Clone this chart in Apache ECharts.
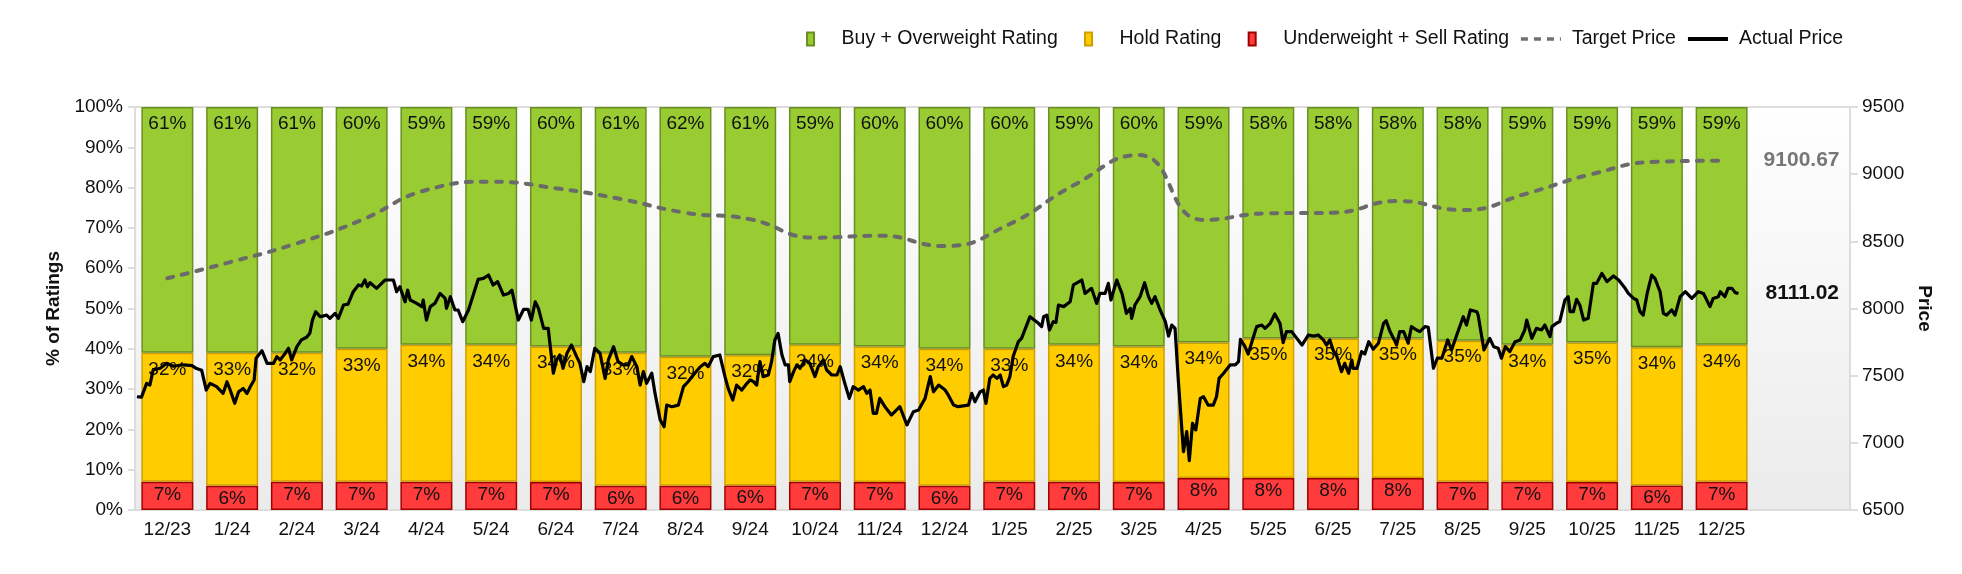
<!DOCTYPE html>
<html><head><meta charset="utf-8">
<script src="https://cdn.jsdelivr.net/npm/echarts@6/dist/echarts.min.js"></script>
<style>html,body{margin:0;padding:0;background:#fff}#c{width:1962px;height:574px}</style>
</head><body><div id="c"></div>
<script>
const months = ['12/23','1/24','2/24','3/24','4/24','5/24','6/24','7/24','8/24','9/24','10/24','11/24','12/24','1/25','2/25','3/25','4/25','5/25','6/25','7/25','8/25','9/25','10/25','11/25','12/25'];
const buyPct  = [61,61,61,60,59,59,60,61,62,61,59,60,60,60,59,60,59,58,58,58,58,59,59,59,59];
const holdPct = [32,33,32,33,34,34,34,33,32,32,34,34,34,33,34,34,34,35,35,35,35,34,35,34,34];
const sellPct = [7,6,7,7,7,7,7,6,6,6,7,7,6,7,7,7,8,8,8,8,7,7,7,6,7];
const targetPrice = [8225,8349,8485,8659,8882,8944,8895,8815,8713,8664,8527,8542,8465,8627,8919,9142,8659,8709,8713,8800,8733,8857,9001,9093,9100.67];
// [months since start of 12/23, price]
const actualPrice = [
[0.03,7343],[0.10,7340],[0.18,7443],[0.23,7430],[0.28,7542],[0.39,7555],[0.49,7592],[0.59,7570],[0.75,7581],[0.88,7575],[0.95,7553],[1.03,7540],
[1.10,7393],[1.16,7443],[1.26,7418],[1.36,7368],[1.42,7455],[1.47,7393],[1.54,7294],[1.60,7380],[1.67,7405],[1.73,7368],[1.78,7418],[1.84,7468],[1.87,7629],[1.96,7686],
[2.04,7592],[2.14,7592],[2.19,7642],[2.24,7617],[2.32,7667],[2.37,7704],[2.42,7617],[2.50,7716],[2.57,7766],[2.65,7786],[2.70,7816],[2.74,7914],[2.79,7976],[2.86,7939],[2.96,7951],
[3.01,7927],[3.09,7964],[3.14,7927],[3.22,8026],[3.29,8033],[3.37,8125],[3.45,8175],[3.50,8167],[3.55,8212],[3.59,8162],[3.63,8192],[3.73,8150],[3.86,8212],[3.99,8212],
[4.04,8125],[4.09,8162],[4.17,8050],[4.21,8137],[4.25,8063],[4.35,8038],[4.43,8014],[4.45,8063],[4.50,7914],[4.56,8014],[4.63,8038],[4.71,8112],[4.79,8075],[4.81,8001],[4.87,8088],[4.94,7989],[4.99,7989],
[5.06,7902],[5.15,7989],[5.23,8112],[5.30,8217],[5.38,8224],[5.46,8249],[5.53,8175],[5.60,8200],[5.69,8100],[5.77,8112],[5.82,8137],[5.92,7914],[6.00,7993],
[6.07,7993],[6.12,7914],[6.18,8050],[6.23,8001],[6.31,7852],[6.38,7853],[6.46,7518],[6.51,7617],[6.56,7654],[6.61,7555],[6.67,7667],[6.74,7728],[6.82,7642],[6.87,7592],[6.93,7455],[6.98,7567],
[7.03,7530],[7.10,7704],[7.18,7667],[7.26,7480],[7.31,7617],[7.39,7716],[7.46,7604],[7.54,7580],[7.62,7580],[7.67,7642],[7.75,7567],[7.80,7430],[7.85,7530],[7.90,7443],[7.98,7518],
[8.03,7368],[8.11,7170],[8.17,7120],[8.21,7281],[8.29,7269],[8.39,7281],[8.47,7418],[8.54,7455],[8.62,7505],[8.73,7567],[8.80,7592],[8.85,7567],[8.93,7642],
[9.03,7654],[9.11,7493],[9.16,7405],[9.23,7319],[9.29,7430],[9.37,7393],[9.45,7443],[9.50,7468],[9.55,7455],[9.60,7430],[9.65,7604],[9.70,7493],[9.78,7505],[9.83,7604],[9.88,7766],[9.93,7815],[9.99,7654],
[10.04,7580],[10.09,7580],[10.11,7455],[10.17,7530],[10.22,7580],[10.27,7555],[10.35,7617],[10.42,7592],[10.50,7493],[10.55,7567],[10.63,7617],[10.68,7542],[10.76,7505],[10.84,7505],[10.89,7567],[10.96,7443],
[11.03,7331],[11.09,7418],[11.17,7393],[11.25,7418],[11.30,7368],[11.35,7393],[11.40,7220],[11.45,7220],[11.50,7331],[11.58,7269],[11.68,7207],[11.81,7269],[11.92,7133],
[12.02,7232],[12.10,7244],[12.20,7331],[12.28,7493],[12.33,7380],[12.41,7430],[12.51,7393],[12.56,7355],[12.64,7281],[12.71,7269],[12.87,7281],[12.92,7368],[12.97,7306],
[13.05,7380],[13.10,7393],[13.14,7294],[13.20,7480],[13.25,7505],[13.31,7480],[13.36,7505],[13.41,7418],[13.46,7430],[13.51,7493],[13.56,7642],[13.64,7753],[13.69,7778],[13.82,7939],[13.95,7890],
[14.00,7865],[14.03,7939],[14.08,7951],[14.12,7840],[14.18,7902],[14.22,7896],[14.26,8026],[14.34,8014],[14.44,8050],[14.49,8175],[14.62,8212],[14.67,8112],[14.77,8150],[14.85,8038],[14.90,8112],[14.98,8112],
[15.03,8187],[15.07,8063],[15.16,8212],[15.24,8112],[15.31,7964],[15.37,8001],[15.39,7927],[15.44,8026],[15.52,8088],[15.59,8192],[15.65,8088],[15.70,8038],[15.75,8088],[15.83,7989],[15.91,7902],[15.96,7795],
[16.01,7877],[16.06,7852],[16.11,7468],[16.19,6934],[16.24,7083],[16.28,6867],[16.33,7145],[16.38,7096],[16.45,7331],[16.50,7343],[16.57,7281],[16.65,7281],[16.70,7343],[16.74,7480],[16.81,7518],[16.91,7580],[16.99,7580],
[17.04,7604],[17.07,7771],[17.14,7716],[17.19,7661],[17.24,7741],[17.32,7865],[17.40,7877],[17.45,7852],[17.53,7890],[17.60,7959],[17.68,7890],[17.73,7746],[17.78,7828],[17.86,7828],
[18.02,7728],[18.12,7803],[18.20,7795],[18.27,7803],[18.35,7766],[18.40,7728],[18.45,7766],[18.50,7691],[18.56,7642],[18.63,7530],[18.68,7592],[18.74,7518],[18.79,7617],[18.81,7555],[18.87,7555],[18.94,7679],
[18.99,7661],[19.05,7753],[19.12,7697],[19.20,7741],[19.28,7890],[19.32,7909],[19.38,7828],[19.46,7753],[19.48,7728],[19.53,7828],[19.59,7828],[19.66,7741],[19.71,7865],[19.79,7840],[19.84,7828],[19.92,7865],[19.97,7860],
[20.05,7555],[20.11,7630],[20.18,7630],[20.27,7766],[20.33,7691],[20.41,7803],[20.51,7939],[20.56,7877],[20.62,7989],[20.72,7976],[20.74,7951],[20.83,7691],[20.92,7778],[20.98,7716],
[21.05,7704],[21.10,7630],[21.16,7716],[21.23,7679],[21.31,7753],[21.39,7766],[21.46,7840],[21.49,7914],[21.57,7778],[21.64,7852],[21.72,7840],[21.77,7877],[21.85,7791],[21.88,7865],[21.95,7890],
[22.00,7902],[22.08,8063],[22.13,8088],[22.16,7976],[22.21,7976],[22.26,8068],[22.31,8026],[22.37,7914],[22.44,7927],[22.52,8187],[22.57,8187],[22.65,8261],[22.73,8200],[22.83,8242],[22.91,8212],
[23.01,8150],[23.06,8112],[23.14,8075],[23.19,8063],[23.24,7976],[23.29,7951],[23.35,8112],[23.42,8249],[23.47,8224],[23.55,8125],[23.60,7964],[23.65,7951],[23.73,7989],[23.78,7951],[23.86,8088],[23.94,8125],
[24.04,8075],[24.14,8125],[24.22,8112],[24.32,8014],[24.37,8075],[24.45,8088],[24.48,8125],[24.55,8088],[24.60,8150],[24.66,8150],[24.71,8118],[24.76,8111.02]
];

const FONT = '"Liberation Sans", Arial, Helvetica, sans-serif';
const chart = echarts.init(document.getElementById('c'), null, {renderer: 'canvas'});
const totals = months.map((m, i) => buyPct[i] + holdPct[i] + sellPct[i]);
const stackData = arr => arr.map((v, i) => ({value: v * 100 / totals[i], raw: v}));
const pctLabel = (dist) => ({
  show: true, position: 'insideTop', distance: dist,
  formatter: p => p.data.raw + '%',
  fontSize: 19, color: '#111', fontFamily: FONT
});
const barIcon = 'path://M0,0h7v13h-7z';
const lastTarget = targetPrice[targetPrice.length - 1];
const lastActual = actualPrice[actualPrice.length - 1][1];
const spacedNames = ['Buy + Overweight Rating', 'Hold Rating'];

chart.setOption({
  animation: false,
  textStyle: {fontFamily: FONT},
  legend: {
    right: 119, top: 29, padding: 0, itemGap: 10, itemWidth: 40, itemHeight: 13,
    textStyle: {fontSize: 19.5, color: '#111', fontFamily: FONT, padding: [0, 0, 0, 6]},
    formatter: name => spacedNames.includes(name) ? name + '   ' : name,
    data: [
      {name: 'Buy + Overweight Rating', icon: barIcon},
      {name: 'Hold Rating', icon: barIcon},
      {name: 'Underweight + Sell Rating', icon: barIcon},
      {name: 'Target Price', itemStyle: {opacity: 0}, lineStyle: {width: 3.5, type: [7, 6], cap: 'butt', color: '#707070'}},
      {name: 'Actual Price', itemStyle: {opacity: 0}, lineStyle: {width: 4, color: '#000'}}
    ]
  },
  graphic: [{
    type: 'rect', z: -10, silent: true,
    shape: {x: 135, y: 107, width: 1715, height: 403},
    style: {
      fill: new echarts.graphic.LinearGradient(0, 0, 0, 1, [{offset: 0, color: '#ffffff'}, {offset: 1, color: '#ebebeb'}]),
      stroke: '#dddddd', lineWidth: 2
    }
  }],
  grid: {left: 135, right: 208, top: 107, bottom: 64, containLabel: false},
  xAxis: [
    {type: 'category', data: months, boundaryGap: true,
      axisLine: {show: false}, axisTick: {show: false},
      axisLabel: {fontSize: 19, color: '#111', margin: 10, fontFamily: FONT}},
    {type: 'value', min: 0, max: 25, show: false}
  ],
  yAxis: [
    {type: 'value', min: 0, max: 100, interval: 10, position: 'left',
      axisLine: {show: false}, splitLine: {show: false},
      axisTick: {show: true, length: 7, lineStyle: {color: '#dddddd', width: 2}},
      axisLabel: {formatter: '{value}%', fontSize: 19, color: '#111', margin: 12, fontFamily: FONT},
      name: '% of Ratings', nameLocation: 'middle', nameGap: 62,
      nameTextStyle: {fontSize: 19, fontWeight: 'bold', color: '#111', fontFamily: FONT}},
    {type: 'value', min: 6500, max: 9500, interval: 500, position: 'right', offset: 96,
      axisLine: {show: false}, splitLine: {show: false},
      axisTick: {show: true, length: 8, lineStyle: {color: '#dddddd', width: 2}},
      axisLabel: {formatter: v => String(v), fontSize: 19, color: '#111', margin: 12, fontFamily: FONT},
      name: 'Price', nameLocation: 'middle', nameGap: 54, nameRotate: -90,
      nameTextStyle: {fontSize: 19, fontWeight: 'bold', color: '#111', fontFamily: FONT}}
  ],
  series: [
    {name: 'Underweight + Sell Rating', type: 'bar', stack: 'r', barWidth: 52,
      data: stackData(sellPct), label: pctLabel(3),
      itemStyle: {color: '#ff3b3b', borderColor: '#a00000', borderWidth: 1.5}},
    {name: 'Hold Rating', type: 'bar', stack: 'r', barWidth: 52,
      data: stackData(holdPct), label: pctLabel(7),
      itemStyle: {color: '#ffcc00', borderColor: '#d09e00', borderWidth: 1.5}},
    {name: 'Buy + Overweight Rating', type: 'bar', stack: 'r', barWidth: 52,
      data: stackData(buyPct), label: pctLabel(7),
      itemStyle: {color: '#99cc33', borderColor: '#6b8e23', borderWidth: 1.5}},
    {name: 'Target Price', type: 'line', xAxisIndex: 0, yAxisIndex: 1, z: 5,
      data: targetPrice, smooth: true, symbol: 'none', showSymbol: false,
      lineStyle: {color: '#6a6a6a', width: 4, type: [6, 9], cap: 'round'},
      itemStyle: {color: '#6a6a6a'},
      endLabel: {show: true, distance: 42, formatter: () => lastTarget.toFixed(2),
        fontSize: 21, fontWeight: 'bold', color: '#777777', fontFamily: FONT}},
    {name: 'Actual Price', type: 'line', xAxisIndex: 1, yAxisIndex: 1, z: 6,
      data: actualPrice, symbol: 'none', showSymbol: false,
      lineStyle: {color: '#000000', width: 3.2, join: 'round'},
      itemStyle: {color: '#000000'},
      endLabel: {show: true, distance: 27, formatter: () => lastActual.toFixed(2),
        fontSize: 21, fontWeight: 'bold', color: '#111', fontFamily: FONT}}
  ]
});
</script></body></html>
